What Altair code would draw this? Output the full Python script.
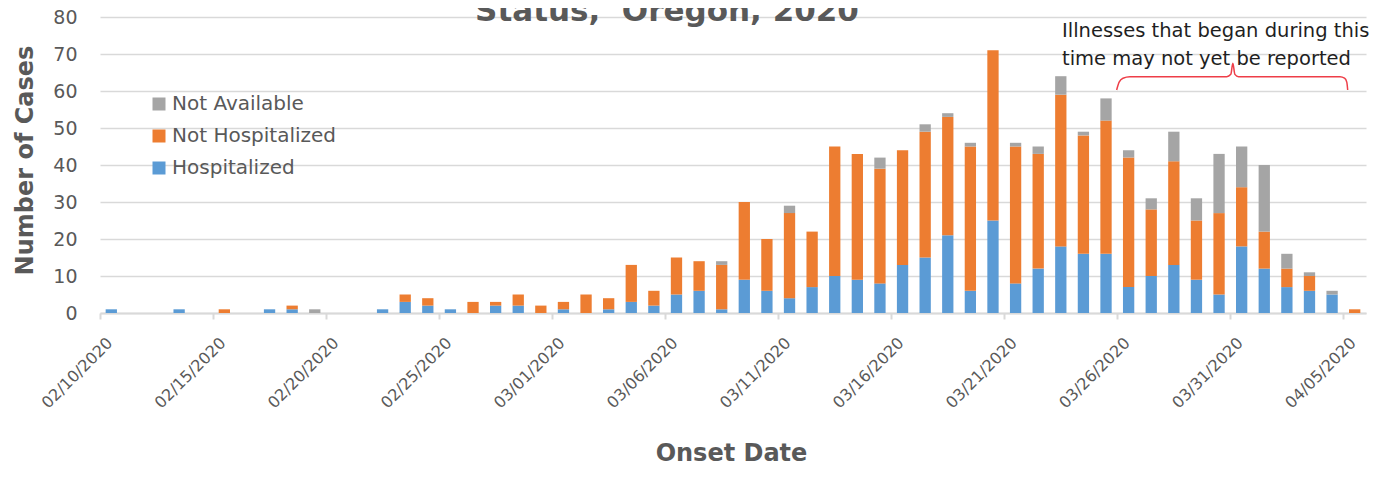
import altair as alt
import pandas as pd

FONT = "DejaVu Sans"

# Onset dates 02/10/2020 .. 04/05/2020 (one bar per day)
dates = pd.date_range("2020-02-10", "2020-04-05").strftime("%m/%d/%Y").tolist()
tick_dates = dates[::5]

hospitalized = [1, 0, 0, 1, 0, 0, 0, 1, 1, 0,
                0, 0, 1, 3, 2, 1, 0, 2, 2, 0,
                1, 0, 1, 3, 2, 5, 6, 1, 9, 6,
                4, 7, 10, 9, 8, 13, 15, 21, 6, 25,
                8, 12, 18, 16, 16, 7, 10, 13, 9, 5,
                18, 12, 7, 6, 5, 0]
not_hospitalized = [0, 0, 0, 0, 0, 1, 0, 0, 1, 0,
                    0, 0, 0, 2, 2, 0, 3, 1, 3, 2,
                    2, 5, 3, 10, 4, 10, 8, 12, 21, 14,
                    23, 15, 35, 34, 31, 31, 34, 32, 39, 46,
                    37, 31, 41, 32, 36, 35, 18, 28, 16, 22,
                    16, 10, 5, 4, 0, 1]
not_available = [0, 0, 0, 0, 0, 0, 0, 0, 0, 1,
                 0, 0, 0, 0, 0, 0, 0, 0, 0, 0,
                 0, 0, 0, 0, 0, 0, 0, 1, 0, 0,
                 2, 0, 0, 0, 3, 0, 2, 1, 1, 0,
                 1, 2, 5, 1, 6, 2, 3, 8, 6, 16,
                 11, 18, 4, 1, 1, 0]

series_names = ["Not Available", "Not Hospitalized", "Hospitalized"]
series_colors = ["#A5A5A5", "#ED7D31", "#5B9BD5"]
stack_order = {"Hospitalized": 0, "Not Hospitalized": 1, "Not Available": 2}
series_values = {"Hospitalized": hospitalized,
                 "Not Hospitalized": not_hospitalized,
                 "Not Available": not_available}
y_ticks = [0, 10, 20, 30, 40, 50, 60, 70, 80]

title_line = "Status,\u00a0 Oregon, 2020"
note_lines = ["Illnesses that began during this", "time may not yet be reported"]

# curly bracket over the last days (day index, case level)
bracket_day = [44.47, 44.58, 44.75, 45.06, 49.34, 49.52, 49.61, 49.70, 49.86,
               54.35, 54.55, 54.65, 54.69]
bracket_level = [60.27, 62.4, 63.45, 63.86, 63.86, 64.5, 67.49, 64.5, 63.86,
                 63.86, 63.45, 62.4, 60.27]

rows = []
for i, d in enumerate(dates):
    for name in ["Hospitalized", "Not Hospitalized", "Not Available"]:
        rows.append({"date": d, "series": name,
                     "cases": series_values[name][i], "order": stack_order[name]})
df = pd.DataFrame(rows)

GRAY_TXT = "#595959"
LINE = "#d9d9d9"

y_scale = alt.Scale(domain=[0, 80], nice=False)
y_axis = alt.Axis(values=y_ticks, ticks=False, domain=False,
                  grid=True, gridColor=LINE, gridWidth=1.5,
                  labelOverlap=False, labelBound=False,
                  labelPadding=23, labelFont=FONT, labelFontSize=19,
                  labelColor=GRAY_TXT,
                  title="Number of Cases", titleX=-75, titleY=143,
                  titleBaseline="middle", titleAlign="center",
                  titleFont=FONT, titleFontSize=24, titleFontWeight="bold",
                  titleColor=GRAY_TXT)

bars = alt.Chart(df).mark_bar().encode(
    x=alt.X("date:N", sort=dates,
            scale=alt.Scale(domain=dates, paddingInner=0.5, paddingOuter=0.25),
            axis=alt.Axis(values=tick_dates, labelAngle=-45, labelAlign="right",
                          labelBaseline="middle", bandPosition=0.5,
                          tickOffset=-11.3, labelOffset=9.5, labelPadding=21,
                          tickSize=6, tickWidth=2, tickColor=LINE,
                          domainColor=LINE, domainWidth=2, grid=False,
                          labelFont=FONT, labelFontSize=16, labelColor=GRAY_TXT,
                          labelOverlap=False, labelLimit=0,
                          title="Onset Date", titleX=631, titleY=147,
                          titleBaseline="alphabetic", titleAlign="center",
                          titleFont=FONT, titleFontSize=24, titleFontWeight="bold",
                          titleColor=GRAY_TXT)),
    y=alt.Y("cases:Q", stack="zero", scale=y_scale, axis=y_axis),
    color=alt.Color("series:N",
                    scale=alt.Scale(domain=series_names, range=series_colors),
                    legend=alt.Legend(title=None, orient="none", legendX=49, legendY=77,
                                      symbolType="square", symbolSize=169,
                                      symbolStrokeWidth=0, labelFont=FONT,
                                      labelFontSize=20, labelColor=GRAY_TXT,
                                      labelLimit=0, labelOffset=3, rowPadding=12,
                                      padding=0)),
    order=alt.Order("order:Q", sort="ascending"),
)

bracket_df = pd.DataFrame({"day": bracket_day, "level": bracket_level})
bracket = alt.Chart(bracket_df).mark_line(color="#EE3E48", strokeWidth=1.5,
                                          interpolate="monotone").encode(
    x=alt.X("day:Q", scale=alt.Scale(domain=[-0.5, 55.5], nice=False, zero=False),
            axis=None),
    y=alt.Y("level:Q", scale=y_scale, axis=y_axis),
)

title_mark = alt.Chart(pd.DataFrame({"t": [title_line]})).mark_text(
    font=FONT, fontSize=31, fontWeight="bold", color=GRAY_TXT,
    align="center", baseline="alphabetic").encode(
    x=alt.value(567), y=alt.value(4), text="t:N")

note1 = alt.Chart(pd.DataFrame({"t": [note_lines[0]]})).mark_text(
    font=FONT, fontSize=19.5, color="#1f1f1f", align="left",
    baseline="alphabetic").encode(x=alt.value(962), y=alt.value(20), text="t:N")
note2 = alt.Chart(pd.DataFrame({"t": [note_lines[1]]})).mark_text(
    font=FONT, fontSize=19.5, color="#1f1f1f", align="left",
    baseline="alphabetic").encode(x=alt.value(962), y=alt.value(48), text="t:N")

chart = alt.layer(bars, bracket, title_mark, note1, note2).resolve_scale(
    x="independent"
).properties(
    width=1266, height=296,
    autosize=alt.AutoSizeParams(type="none"),
    padding={"left": 92, "top": 9, "right": 18, "bottom": 155},
    background="white",
).configure(font=FONT).configure_view(stroke=None)

chart.save("out.html", embed_options={"renderer": "svg", "actions": False})
